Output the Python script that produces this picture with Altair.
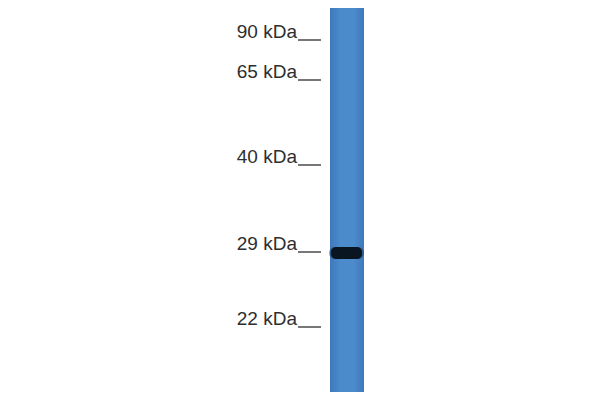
import altair as alt
import pandas as pd

# Marker ladder (label, migration position in image px)
marker_labels = ["90 kDa", "65 kDa", "40 kDa", "29 kDa", "22 kDa"]
marker_pos = [40, 80, 165, 252, 327]

# Lane extent
lane_left = [330]
lane_right = [364]
lane_top = [7]
lane_bottom = [397]

# Detected band
band_pos = [253]
band_half = [6]

markers = pd.DataFrame({"label": marker_labels, "pos": marker_pos})
lane = pd.DataFrame({"x": lane_left, "x2": lane_right, "y": lane_top, "y2": lane_bottom})
band = pd.DataFrame({"y": [p - h for p, h in zip(band_pos, band_half)],
                     "y2": [p + h for p, h in zip(band_pos, band_half)]})

xs = alt.Scale(domain=[8, 592], nice=False, zero=False)
ys = alt.Scale(domain=[8, 392], nice=False, zero=False, reverse=True)
X = lambda f: alt.X(f, type="quantitative", scale=xs, axis=None)
Y = lambda f: alt.Y(f, type="quantitative", scale=ys, axis=None)

lane_grad = alt.Gradient(
    gradient="linear", x1=0, x2=1, y1=0, y2=0,
    stops=[alt.GradientStop(color="#3f79bb", offset=0),
           alt.GradientStop(color="#4b8acb", offset=0.3),
           alt.GradientStop(color="#4c8bcc", offset=0.7),
           alt.GradientStop(color="#3f79bb", offset=1)])

lane_mark = alt.Chart(lane).mark_rect(color=lane_grad, clip=False).encode(
    x=X("x"), x2="x2", y=Y("y"), y2="y2")

halo = alt.Chart(band).mark_rect(color="#1a3350", opacity=0.45, cornerRadius=7).encode(
    x=X("x"), x2="x2", y=Y("y"), y2="y2"
).transform_calculate(x="329", x2="364")

band_core = alt.Chart(band).mark_rect(color="#0a1522", cornerRadius=5).encode(
    x=X("x"), x2="x2", y=Y("y"), y2="y2"
).transform_calculate(x="331", x2="362")

ticks = alt.Chart(markers).mark_rule(color="#555555", strokeWidth=1.6).encode(
    x=X("x"), x2="x2", y=Y("pos")
).transform_calculate(x="298", x2="321")

labels = alt.Chart(markers).mark_text(
    align="right", baseline="alphabetic", font="Liberation Sans",
    fontSize=19, color="#2e2e2e", dy=-2).encode(
    x=X("x"), y=Y("pos"), text="label"
).transform_calculate(x="297")

chart = alt.layer(lane_mark, halo, band_core, ticks, labels).properties(
    width=584, height=384, padding=0,
    autosize=alt.AutoSizeParams(type="none")
).configure_view(stroke=None)

chart.save("out.html", embed_options={"renderer": "svg", "actions": False})
